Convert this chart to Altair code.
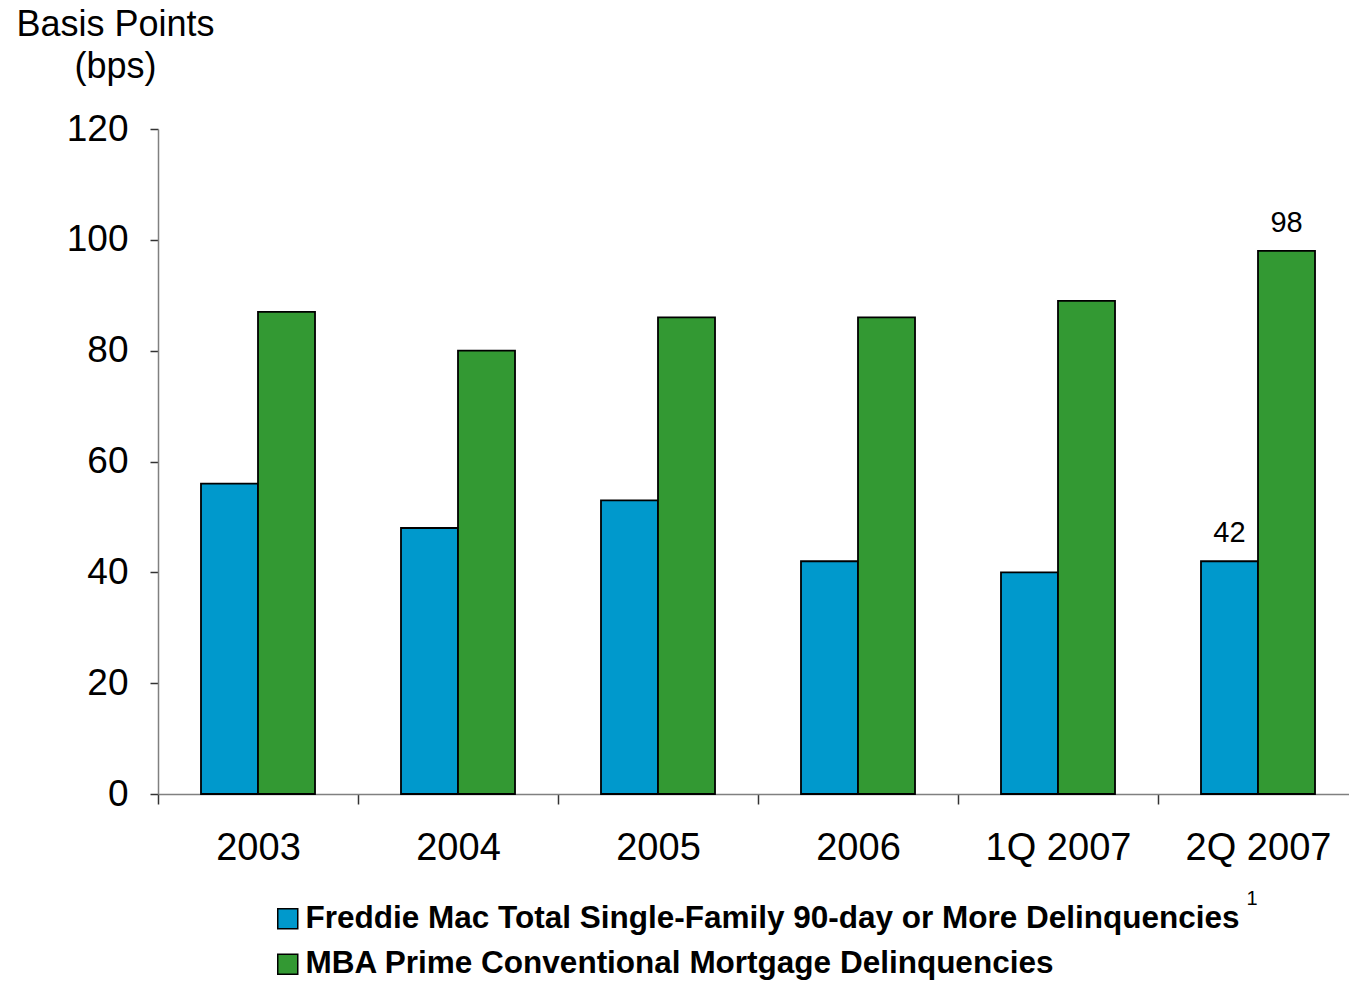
import altair as alt
import pandas as pd

periods = ["2003", "2004", "2005", "2006", "1Q 2007", "2Q 2007"]
freddie = [56, 48, 53, 42, 40, 42]
mba = [87, 80, 86, 86, 89, 98]
series_names = [
    "Freddie Mac Total Single-Family 90-day or More Delinquencies",
    "MBA Prime Conventional Mortgage Delinquencies",
]
series_colors = ["#0099CC", "#339933"]
labelled_period = "2Q 2007"

rows = []
for p, f, m in zip(periods, freddie, mba):
    rows.append({"period": p, "series": series_names[0], "bps": f})
    rows.append({"period": p, "series": series_names[1], "bps": m})
df = pd.DataFrame(rows)
df["label"] = [str(v) if p == labelled_period else "" for p, v in zip(df["period"], df["bps"])]

FONT = "Liberation Sans"

x_enc = alt.X(
    "period:N",
    sort=periods,
    scale=alt.Scale(range=[0, 1200], paddingInner=0, paddingOuter=0),
    axis=alt.Axis(
        title=None,
        labelAngle=0,
        labelFont=FONT,
        labelFontSize=38,
        labelColor="black",
        labelPadding=25,
        tickBand="extent",
        tickSize=10,
        tickColor="#333333",
        tickWidth=1.5,
        domainColor="#808080",
        domainWidth=1.5,
        grid=False,
    ),
)
xoff_enc = alt.XOffset(
    "series:N", sort=series_names, scale=alt.Scale(paddingInner=0, paddingOuter=0.754)
)
y_enc = alt.Y(
    "bps:Q",
    scale=alt.Scale(domain=[0, 120], nice=False),
    axis=alt.Axis(
        values=[0, 20, 40, 60, 80, 100, 120],
        title=["Basis Points", "(bps)"],
        titleAngle=0,
        titleAlign="center",
        titleBaseline="alphabetic",
        titleX=-43,
        titleY=-94,
        titleFont=FONT,
        titleFontSize=36,
        titleFontWeight="normal",
        titleColor="black",
        titleLineHeight=42,
        labelFont=FONT,
        labelFontSize=37,
        labelColor="black",
        labelPadding=22,
        tickSize=8,
        tickColor="#333333",
        tickWidth=1.5,
        domainColor="#808080",
        domainWidth=1.5,
        grid=False,
    ),
)

bars = alt.Chart(df).mark_bar(stroke="black", strokeWidth=1.8).encode(
    x=x_enc,
    xOffset=xoff_enc,
    y=y_enc,
    color=alt.Color(
        "series:N",
        sort=series_names,
        scale=alt.Scale(domain=series_names, range=series_colors),
        title=None,
        legend=alt.Legend(
            orient="none",
            legendX=114,
            legendY=774,
            direction="vertical",
            padding=0,
            symbolType="square",
            symbolSize=400,
            symbolStrokeColor="black",
            symbolStrokeWidth=1.5,
            symbolOpacity=1,
            labelFont=FONT,
            labelFontSize=31.5,
            labelFontWeight="bold",
            labelColor="black",
            labelLimit=1300,
            labelOffset=2,
            rowPadding=12.5,
        ),
    ),
)

labels = alt.Chart(df).mark_text(
    font=FONT, fontSize=29, color="black", baseline="alphabetic", dy=-19
).encode(
    x=alt.X("period:N", sort=periods),
    xOffset=alt.XOffset("series:N", sort=series_names),
    y="bps:Q",
    text="label:N",
)

# footnote marker after the first legend entry
footnote = alt.Chart(pd.DataFrame({"t": ["1"]})).mark_text(
    font=FONT, fontSize=20, color="black", baseline="alphabetic", align="center"
).encode(x=alt.value(1094), y=alt.value(776), text="t:N")

chart = (
    alt.layer(bars, labels, footnote)
    .properties(
        width=1191,
        height=665,
        autosize=alt.AutoSizeParams(type="none"),
        padding={"left": 158, "top": 129, "right": 0, "bottom": 187},
        view=alt.ViewBackground(stroke="transparent", strokeWidth=0),
    )
    .configure_view(stroke="transparent", strokeWidth=0)
    .configure(background="white")
)

chart.save("out.html", embed_options={"renderer": "svg", "actions": False})
